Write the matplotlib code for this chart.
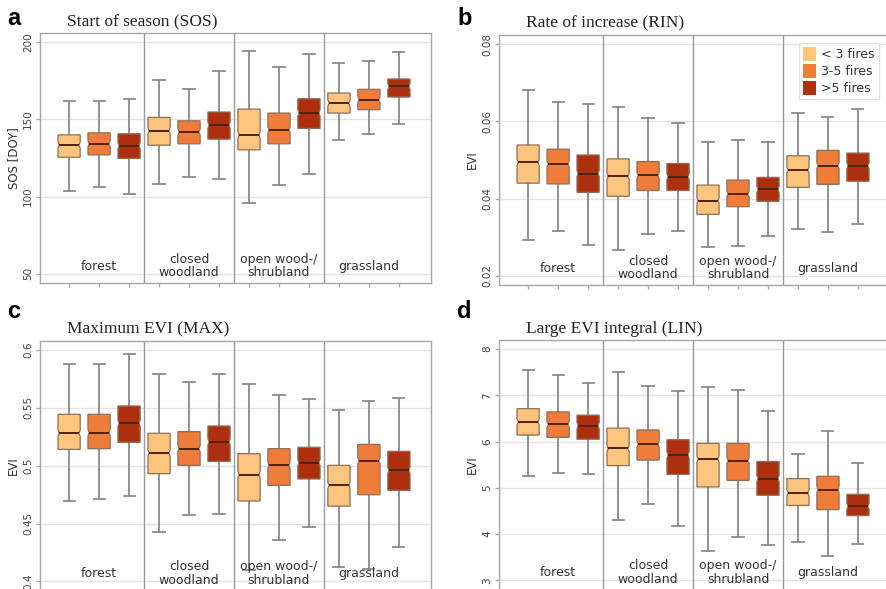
import matplotlib

matplotlib.use("Agg")

import matplotlib.pyplot as plt
from matplotlib.patches import Patch
from matplotlib.path import Path
from matplotlib.ticker import FormatStrFormatter


GROUPS = ["forest", "closed\nwoodland", "open wood-/\nshrubland", "grassland"]
FIRE_CLASSES = ["< 3 fires", "3-5 fires", ">5 fires"]

# rows: forest, closed woodland, open wood-/shrubland, grassland (x 3 fire classes)
# columns: lower whisker, Q1, median, Q3, upper whisker
SOS_STATS = [
    [103.9, 125.5, 133.3, 140.0, 162.1],
    [106.0, 127.0, 134.2, 141.3, 162.0],
    [101.7, 124.7, 132.9, 140.7, 163.2],
    [108.0, 133.3, 142.6, 151.3, 175.8],
    [112.6, 134.2, 141.8, 149.1, 169.7],
    [111.5, 137.2, 146.3, 154.8, 181.2],
    [95.9, 130.3, 140.0, 156.7, 194.6],
    [107.6, 134.2, 143.3, 154.1, 183.8],
    [114.7, 144.2, 154.1, 163.4, 192.6],
    [136.6, 154.1, 160.6, 167.1, 186.4],
    [140.7, 156.3, 162.8, 169.5, 188.1],
    [147.2, 164.5, 171.4, 176.2, 193.9],
]
RIN_STATS = [
    [0.0292, 0.0440, 0.0494, 0.0539, 0.0681],
    [0.0316, 0.0438, 0.0490, 0.0528, 0.0650],
    [0.0279, 0.0416, 0.0465, 0.0513, 0.0644],
    [0.0267, 0.0406, 0.0458, 0.0503, 0.0638],
    [0.0308, 0.0421, 0.0460, 0.0496, 0.0609],
    [0.0317, 0.0421, 0.0457, 0.0491, 0.0595],
    [0.0275, 0.0359, 0.0395, 0.0435, 0.0547],
    [0.0277, 0.0379, 0.0412, 0.0448, 0.0551],
    [0.0302, 0.0393, 0.0424, 0.0455, 0.0547],
    [0.0322, 0.0429, 0.0474, 0.0511, 0.0622],
    [0.0313, 0.0437, 0.0485, 0.0525, 0.0612],
    [0.0334, 0.0445, 0.0485, 0.0518, 0.0633],
]
MAX_STATS = [
    [0.4697, 0.5141, 0.5280, 0.5444, 0.5876],
    [0.4709, 0.5147, 0.5285, 0.5444, 0.5879],
    [0.4735, 0.5202, 0.5366, 0.5516, 0.5965],
    [0.4427, 0.4931, 0.5110, 0.5280, 0.5795],
    [0.4571, 0.5003, 0.5147, 0.5294, 0.5720],
    [0.4579, 0.5037, 0.5207, 0.5343, 0.5795],
    [0.4101, 0.4695, 0.4922, 0.5104, 0.5706],
    [0.4360, 0.4830, 0.5003, 0.5147, 0.5614],
    [0.4467, 0.4885, 0.5026, 0.5159, 0.5576],
    [0.4127, 0.4651, 0.4830, 0.5003, 0.5478],
    [0.4110, 0.4749, 0.5043, 0.5184, 0.5562],
    [0.4294, 0.4787, 0.4960, 0.5124, 0.5582],
]
LIN_STATS = [
    [5.26, 6.14, 6.42, 6.71, 7.55],
    [5.31, 6.09, 6.37, 6.64, 7.44],
    [5.29, 6.05, 6.34, 6.57, 7.27],
    [4.30, 5.48, 5.85, 6.29, 7.50],
    [4.65, 5.60, 5.94, 6.25, 7.20],
    [4.17, 5.29, 5.71, 6.04, 7.10],
    [3.63, 5.02, 5.62, 5.96, 7.17],
    [3.94, 5.16, 5.59, 5.96, 7.11],
    [3.76, 4.84, 5.20, 5.57, 6.66],
    [3.82, 4.62, 4.89, 5.20, 5.73],
    [3.52, 4.53, 4.96, 5.25, 6.22],
    [3.78, 4.40, 4.60, 4.86, 5.54],
]

SOS_TICKS = [50, 100, 150, 200]
RIN_TICKS = [0.02, 0.04, 0.06, 0.08]
MAX_TICKS = [0.4, 0.45, 0.5, 0.55, 0.6]
LIN_TICKS = [3, 4, 5, 6, 7, 8]

COLORS = ["#fcc47d", "#f07c3a", "#ad2f0e"]
EDGE = "#8c6f58"
MEDIAN = "#4e230c"
WHISKER = "#8a8a8a"
FRAME = "#a6a6a6"
GRID = "#e3e3e3"
TEXT = "#333333"

BOX_WIDTH = 0.74


def draw_panel(ax, stats_rows, ticks, ylabel):
    lo, hi = ticks[0], ticks[-1]
    pad = (hi - lo) * 0.04
    notch = (hi - lo) * 0.013
    stats = []
    for row in stats_rows:
        whislo, q1, med, q3, whishi = row
        stats.append(
            {
                "whislo": whislo,
                "q1": q1,
                "med": med,
                "q3": q3,
                "whishi": whishi,
                "cilo": med - notch,
                "cihi": med + notch,
                "fliers": [],
            }
        )
    positions = list(range(1, len(stats) + 1))
    art = ax.bxp(
        stats,
        positions=positions,
        widths=BOX_WIDTH,
        shownotches=True,
        patch_artist=True,
        showfliers=False,
        boxprops={"edgecolor": EDGE, "linewidth": 0.9},
        whiskerprops={"color": WHISKER, "linewidth": 1.3},
        capprops={"color": WHISKER, "linewidth": 1.3},
        medianprops={"color": MEDIAN, "linewidth": 1.4},
    )
    for i, (box, median) in enumerate(zip(art["boxes"], art["medians"])):
        pos = positions[i]
        box.set_facecolor(COLORS[i % 3])
        box.set_zorder(3)
        # shallow notch instead of matplotlib's half-width indentation
        path = box.get_path()
        verts = path.vertices.copy()
        for v in verts:
            if abs(v[0] - (pos + BOX_WIDTH * 0.25)) < 1e-9:
                v[0] = pos + BOX_WIDTH * 0.44
            elif abs(v[0] - (pos - BOX_WIDTH * 0.25)) < 1e-9:
                v[0] = pos - BOX_WIDTH * 0.44
        box.set_path(Path(verts, path.codes))
        median.set_xdata([pos - BOX_WIDTH * 0.44, pos + BOX_WIDTH * 0.44])
        median.set_zorder(4)

    ax.set_xlim(0.03, 13.07)
    ax.set_ylim(lo - pad, hi + pad)
    ax.set_yticks(ticks)
    ax.yaxis.set_major_formatter(FormatStrFormatter("%g"))
    ax.set_xticks(positions)
    ax.set_xticklabels([])
    ax.grid(axis="y", color=GRID, linewidth=1.0)
    ax.set_axisbelow(True)
    for sep in [3.5, 6.5, 9.5]:
        ax.axvline(sep, color="#999999", linewidth=1.0, zorder=1)
    for spine in ax.spines.values():
        spine.set_color(FRAME)
        spine.set_linewidth(1.0)
    ax.tick_params(axis="both", color=FRAME, length=3, width=0.9)
    ax.tick_params(axis="y", labelsize=7.5, labelcolor="#444444", pad=2)
    for label in ax.get_yticklabels():
        label.set_rotation(90)
        label.set_va("center")
    ax.set_ylabel(ylabel, fontsize=8.5, color=TEXT, labelpad=2)
    for g, name in enumerate(GROUPS):
        ax.text(
            3 * g + 2,
            0.068,
            name,
            transform=ax.get_xaxis_transform(),
            ha="center",
            va="center",
            fontsize=9,
            color=TEXT,
            linespacing=1.05,
        )


def main():
    fig = plt.figure(figsize=(8.87, 5.89), dpi=100)
    fig.patch.set_facecolor("white")

    panels = [
        ("a", "Start of season (SOS)", SOS_STATS, SOS_TICKS, "SOS [DOY]",
         [0.0451, 0.5195], (7, 25), (67, 26)),
        ("b", "Rate of increase (RIN)", RIN_STATS, RIN_TICKS, "EVI",
         [0.5626, 0.5161], (457, 25), (526, 27)),
        ("c", "Maximum EVI (MAX)", MAX_STATS, MAX_TICKS, "EVI",
         [0.0451, -0.0029], (7, 318), (67, 333)),
        ("d", "Large EVI integral (LIN)", LIN_STATS, LIN_TICKS, "EVI",
         [0.5626, -0.0012], (457, 318), (526, 333)),
    ]
    W, H = 887.0, 589.0
    axes = []
    for letter, title, stats, ticks, ylabel, (left, bottom), lpos, tpos in panels:
        ax = fig.add_axes([left, bottom, 0.4408, 0.4245])
        draw_panel(ax, stats, ticks, ylabel)
        axes.append(ax)
        fig.text(lpos[0] / W, 1 - lpos[1] / H, letter, fontsize=17,
                 fontweight="bold", family="Liberation Sans", va="baseline")
        fig.text(tpos[0] / W, 1 - tpos[1] / H, title, fontsize=12.5,
                 family="Liberation Serif", va="baseline", color="#222222")

    handles = [Patch(facecolor=c, edgecolor="none") for c in COLORS]
    axes[1].legend(
        handles,
        FIRE_CLASSES,
        loc="upper right",
        bbox_to_anchor=(885 / W, 1 - 37 / H),
        bbox_transform=fig.transFigure,
        fontsize=9,
        frameon=True,
        facecolor="white",
        edgecolor="#e0e0e0",
        framealpha=1.0,
        fancybox=False,
        handlelength=1.1,
        handleheight=1.3,
        handletextpad=0.4,
        labelspacing=0.25,
        borderpad=0.3,
        labelcolor=TEXT,
    )

    fig.savefig("out.png", dpi=100)


if __name__ == "__main__":
    main()
